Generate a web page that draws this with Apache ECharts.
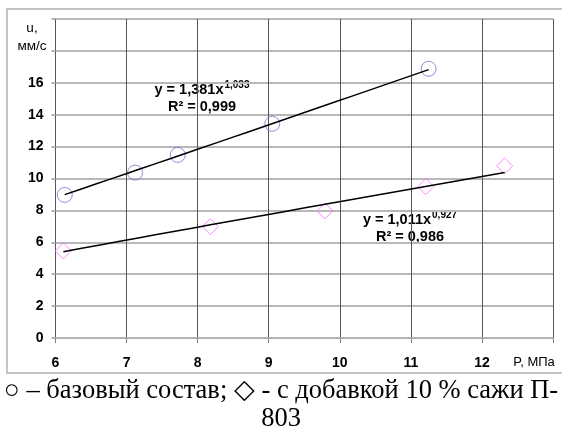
<!DOCTYPE html>
<html>
<head>
<meta charset="utf-8">
<script src="https://cdn.jsdelivr.net/npm/echarts@6/dist/echarts.min.js"></script>
<style>
  html, body { margin: 0; padding: 0; background: #fff; }
  #chart { width: 562px; height: 431px; }
</style>
</head>
<body>
<div id="chart"></div>
<script>
// Burning rate u (mm/s) versus pressure P (MPa)
const xTicks = [6, 7, 8, 9, 10, 11, 12];
const yTicks = [0, 2, 4, 6, 8, 10, 12, 14, 16];

// Base composition (circles)
const basePressure = [6.13, 7.12, 7.72, 9.05, 11.25];
const baseRate = [8.97, 10.37, 11.48, 13.43, 16.88];

// With 10 % carbon black P-803 (diamonds)
const sootPressure = [6.11, 8.18, 9.79, 11.21, 12.32];
const sootRate = [5.46, 6.98, 7.97, 9.49, 10.79];

// Power-law trend lines y = a * x^b as stated in the labels
const baseFit = { a: 1.381, b: 1.033, r2: '0,999' };
const sootFit = { a: 1.011, b: 0.927, r2: '0,986' };

function powerCurve(fit, xs) {
  const x0 = Math.min(...xs), x1 = Math.max(...xs);
  const pts = [];
  const n = 24;
  for (let i = 0; i <= n; i++) {
    const x = x0 + (x1 - x0) * i / n;
    pts.push([x, fit.a * Math.pow(x, fit.b)]);
  }
  return pts;
}

function fmt(v) { return String(v).replace('.', ','); }

const MAIN_FONT = 'bold 14.5px "Liberation Sans"';
const SUP_FONT = 'bold 10px "Liberation Sans"';
const measureCtx = document.createElement('canvas').getContext('2d');
function textWidth(font, s) { measureCtx.font = font; return measureCtx.measureText(s).width; }

// Equation with a raised exponent, plus the R² line beneath it
function fitLabel(fit, cx, cy) {
  const main = 'y = ' + fmt(fit.a) + 'x';
  const sup = fmt(fit.b);
  const wMain = textWidth(MAIN_FONT, main);
  const wSup = textWidth(SUP_FONT, sup);
  const x0 = cx - (wMain + wSup + 1) / 2;
  return [
    { type: 'text', position: [x0, cy],
      style: { text: main, font: MAIN_FONT, fill: '#000', align: 'left', verticalAlign: 'middle' } },
    { type: 'text', position: [x0 + wMain + 1, cy - 5],
      style: { text: sup, font: SUP_FONT, fill: '#000', align: 'left', verticalAlign: 'middle' } },
    { type: 'text', position: [cx, cy + 17],
      style: { text: 'R² = ' + fit.r2, font: MAIN_FONT, fill: '#000', align: 'center', verticalAlign: 'middle' } }
  ];
}

const chart = echarts.init(document.getElementById('chart'));
const bold = { fontFamily: 'Liberation Sans', fontWeight: 'bold', color: '#000' };

chart.setOption({
  animation: false,
  backgroundColor: '#fff',
  grid: { left: 55.5, right: 9, top: 19, bottom: 93 },
  xAxis: {
    type: 'value', min: 6, max: 13, interval: 1,
    axisLine: { show: true, lineStyle: { color: '#b4b4b4', width: 2 } },
    axisTick: { show: true, length: 5, lineStyle: { color: '#808080', width: 1 } },
    axisLabel: {
      ...bold, fontSize: 14, margin: 18,
      formatter: v => (xTicks.includes(v) ? String(v) : '')
    },
    splitLine: { show: true, lineStyle: { color: '#555', width: 1 } }
  },
  yAxis: {
    type: 'value', min: 0, max: 20, interval: 2,
    axisLine: { show: true, lineStyle: { color: '#555', width: 1 } },
    axisTick: { show: true, length: 4, lineStyle: { color: '#b4b4b4', width: 2 } },
    axisLabel: {
      ...bold, fontSize: 14, margin: 12,
      formatter: v => (yTicks.includes(v) ? String(v) : '')
    },
    splitLine: { show: true, lineStyle: { color: '#b8b8b8', width: 2 } }
  },
  series: [
    {
      type: 'scatter', symbol: 'circle', symbolSize: 15, z: 2,
      data: basePressure.map((p, i) => [p, baseRate[i]]),
      itemStyle: { color: 'rgba(0,0,0,0)', borderColor: '#7474d4', borderWidth: 1 }
    },
    {
      type: 'scatter', symbol: 'diamond', symbolSize: [16, 16], z: 2,
      data: sootPressure.map((p, i) => [p, sootRate[i]]),
      itemStyle: { color: 'rgba(0,0,0,0)', borderColor: '#ff6cff', borderWidth: 1 }
    },
    {
      type: 'line', showSymbol: false, z: 3,
      data: powerCurve(baseFit, basePressure),
      lineStyle: { color: '#000', width: 1.5 }
    },
    {
      type: 'line', showSymbol: false, z: 3,
      data: powerCurve(sootFit, sootPressure),
      lineStyle: { color: '#000', width: 1.5 }
    }
  ],
  graphic: [
    {
      type: 'rect', silent: true, z: -1,
      shape: { x: 7, y: 9, width: 570, height: 364 },
      style: { fill: 'none', stroke: '#c4c4c4', lineWidth: 2 }
    },
    {
      type: 'text', position: [32, 28],
      style: { text: 'u,', font: '13.5px "Liberation Sans"', fill: '#000', align: 'center', verticalAlign: 'middle' }
    },
    {
      type: 'text', position: [32, 46],
      style: { text: 'мм/с', font: '13.5px "Liberation Sans"', fill: '#000', align: 'center', verticalAlign: 'middle' }
    },
    {
      type: 'text', position: [534, 362],
      style: { text: 'P, МПа', font: '13px "Liberation Sans"', fill: '#000', align: 'center', verticalAlign: 'middle' }
    },
    ...fitLabel(baseFit, 202, 90),
    ...fitLabel(sootFit, 410, 220),
    {
      type: 'text',
      style: {
        text: '○ – базовый состав; ◇ - с добавкой 10 % сажи П-',
        font: '26.5px "Liberation Serif"', fill: '#000', align: 'center', verticalAlign: 'middle'
      },
      position: [281, 391]
    },
    {
      type: 'text',
      style: {
        text: '803',
        font: '26.5px "Liberation Serif"', fill: '#000', align: 'center', verticalAlign: 'middle'
      },
      position: [281, 419]
    }
  ]
});
</script>
</body>
</html>
